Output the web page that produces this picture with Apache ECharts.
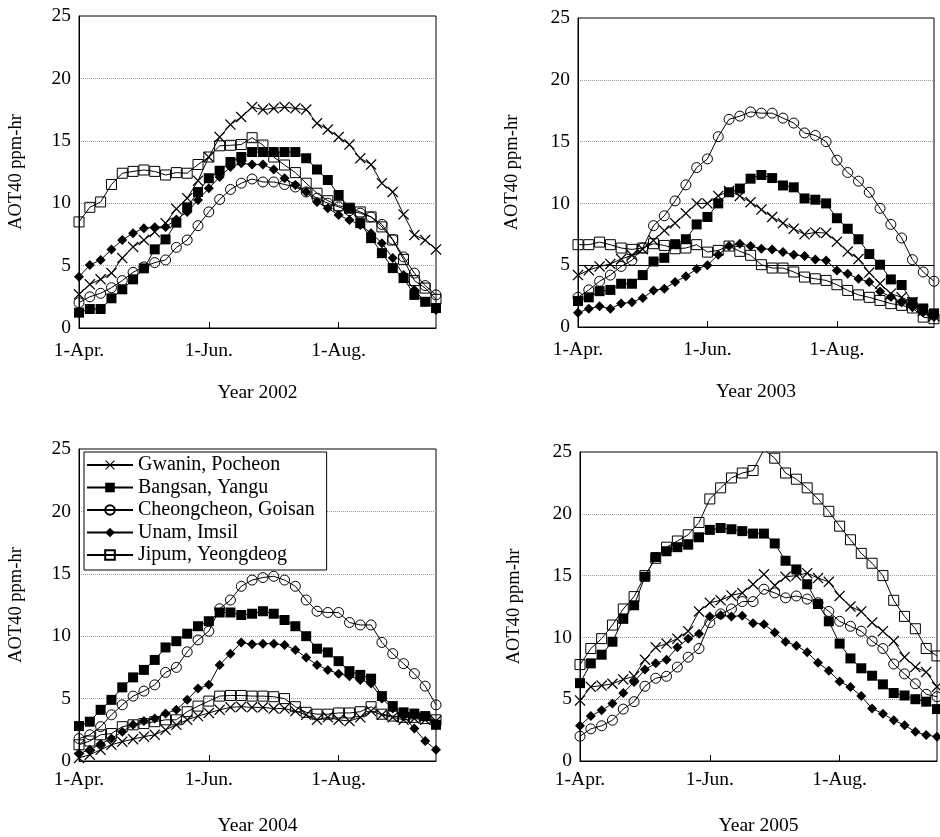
<!DOCTYPE html>
<html>
<head>
<meta charset="utf-8">
<script src="https://cdn.jsdelivr.net/npm/echarts@6/dist/echarts.min.js"></script>
<style>
  html, body { margin: 0; padding: 0; background: #fff; }
  #main { width: 940px; height: 837px; }
</style>
</head>
<body>
<div id="main"></div>
<script>
// 5-day periods from 1 April to mid September
const periods = ['0','1','2','3','4','5','6','7','8','9','10','11','12','13','14','15','16',
  '17','18','19','20','21','22','23','24','25','26','27','28','29','30','31','32','33'];
const tickIndex = [0, 12, 24];
const tickLabels = ['1-Apr.', '1-Jun.', '1-Aug.'];
const years = ['Year 2002', 'Year 2003', 'Year 2004', 'Year 2005'];
const siteNames = ['Gwanin, Pocheon', 'Bangsan, Yangu', 'Cheongcheon, Goisan', 'Unam, Imsil', 'Jipum, Yeongdeog'];

// 2002
const gwanin2002 = [2.7, 3.5, 3.9, 4.4, 5.6, 6.5, 7.05, 7.7, 8.4, 9.55, 10.4, 11.8, 13.7, 15.3, 16.3, 16.9, 17.7,
  17.5, 17.6, 17.7, 17.6, 17.5, 16.4, 15.9, 15.3, 14.7, 13.6, 13.1, 11.6, 10.9, 9.1, 7.45, 7.05, 6.3];
const bangsan2002 = [1.23, 1.52, 1.52, 2.38, 3.1, 3.9, 4.78, 6.3, 7.1, 8.44, 9.67, 10.9, 12.0, 12.6, 13.3, 13.7, 14.1,
  14.1, 14.1, 14.1, 14.1, 13.6, 12.7, 11.86, 10.66, 9.6, 8.4, 7.2, 6.0, 4.8, 4.0, 2.65, 2.1, 1.6];
const cheong2002 = [2.03, 2.5, 2.78, 3.23, 3.8, 4.46, 4.9, 5.24, 5.45, 6.46, 7.05, 8.2, 9.3, 10.3, 11.1, 11.6, 11.94,
  11.7, 11.7, 11.5, 11.3, 10.9, 10.4, 10.0, 9.7, 9.4, 9.2, 8.9, 8.3, 7.1, 5.7, 4.4, 3.4, 2.65];
const unam2002 = [4.1, 5.05, 5.45, 6.3, 7.05, 7.6, 8.0, 8.07, 8.1, 8.7, 9.3, 10.25, 11.2, 12.1, 12.9, 13.2, 13.1,
  13.1, 12.7, 12.0, 11.46, 10.9, 10.1, 9.6, 9.05, 8.65, 8.25, 7.6, 6.8, 5.6, 4.25, 3.05, 2.1, 1.44];
const jipum2002 = [8.5, 9.67, 10.1, 11.5, 12.4, 12.55, 12.66, 12.55, 12.26, 12.45, 12.4, 13.1, 13.7, 14.6, 14.64, 14.7, 15.25,
  14.66, 13.7, 13.06, 12.45, 11.6, 10.8, 10.2, 9.8, 9.6, 9.3, 8.9, 8.1, 7.05, 5.5, 3.8, 3.2, 2.3];

// 2003
const gwanin2003 = [4.2, 4.6, 4.9, 5.1, 5.5, 5.8, 6.3, 7.0, 7.8, 8.4, 9.2, 10.0, 10.0, 10.6, 11.0, 10.6, 10.1,
  9.5, 8.9, 8.4, 7.95, 7.5, 7.65, 7.6, 6.9, 6.1, 5.5, 4.4, 3.5, 2.7, 2.4, 2.0, 1.3, 0.9];
const bangsan2003 = [2.1, 2.4, 2.9, 3.0, 3.5, 3.5, 4.2, 5.3, 5.6, 6.7, 7.1, 8.3, 8.9, 10.0, 10.9, 11.2, 12.0,
  12.3, 12.05, 11.45, 11.3, 10.4, 10.3, 10.0, 8.8, 7.95, 7.1, 5.9, 5.04, 3.85, 3.4, 2.0, 1.5, 1.1];
const cheong2003 = [2.4, 3.0, 3.7, 4.2, 4.9, 5.4, 6.4, 8.2, 9.0, 10.2, 11.5, 12.9, 13.6, 15.4, 16.8, 17.06, 17.4,
  17.3, 17.3, 16.9, 16.5, 15.7, 15.5, 15.0, 13.5, 12.5, 11.8, 10.9, 9.6, 8.3, 7.2, 5.45, 4.45, 3.7];
const unam2003 = [1.16, 1.48, 1.67, 1.48, 1.9, 2.0, 2.35, 2.96, 3.1, 3.64, 4.1, 4.7, 5.0, 5.85, 6.55, 6.74, 6.55,
  6.33, 6.28, 6.06, 5.85, 5.74, 5.47, 5.39, 4.58, 4.3, 3.9, 3.64, 2.88, 2.43, 2.0, 1.6, 1.2, 0.8];
const jipum2003 = [6.66, 6.66, 6.87, 6.66, 6.39, 6.28, 6.39, 6.74, 6.6, 6.33, 6.39, 6.66, 6.06, 6.2, 6.55, 6.12, 5.8,
  5.04, 4.77, 4.77, 4.45, 4.04, 3.9, 3.77, 3.42, 2.96, 2.6, 2.4, 2.15, 1.89, 1.75, 1.54, 0.8, 0.67];

// 2004
const gwanin2004 = [0.25, 0.5, 0.9, 1.3, 1.55, 1.75, 1.95, 2.1, 2.5, 2.9, 3.3, 3.6, 3.85, 4.1, 4.3, 4.35, 4.3,
  4.3, 4.2, 4.2, 4.0, 3.7, 3.3, 3.5, 3.3, 3.2, 3.5, 4.0, 3.7, 3.5, 3.3, 3.4, 3.3, 3.2];
const bangsan2004 = [2.8, 3.15, 4.1, 4.9, 5.9, 6.7, 7.3, 8.1, 9.1, 9.6, 10.2, 10.8, 11.2, 11.9, 11.9, 11.7, 11.8,
  12.0, 11.8, 11.3, 10.8, 10.0, 9.0, 8.7, 8.0, 7.2, 6.9, 6.6, 5.2, 4.4, 3.9, 3.8, 3.6, 2.9];
const cheong2004 = [1.8, 2.1, 2.75, 3.7, 4.5, 5.2, 5.6, 6.1, 7.1, 7.5, 8.75, 9.7, 10.4, 12.2, 12.9, 14.0, 14.5,
  14.7, 14.8, 14.5, 14.0, 12.9, 12.0, 11.9, 11.9, 11.1, 10.9, 10.9, 9.5, 8.6, 7.8, 7.0, 6.0, 4.5];
const unam2004 = [0.6, 0.9, 1.36, 1.8, 2.35, 2.9, 3.2, 3.4, 3.8, 4.1, 4.9, 5.8, 6.1, 7.7, 8.6, 9.5, 9.35,
  9.4, 9.4, 9.3, 8.9, 8.3, 7.7, 7.3, 7.0, 6.8, 6.5, 6.2, 5.0, 4.2, 3.6, 2.6, 1.6, 0.9];
const jipum2004 = [1.3, 1.6, 2.1, 2.2, 2.75, 2.9, 3.0, 3.15, 3.3, 3.3, 3.95, 4.4, 4.8, 5.2, 5.25, 5.25, 5.2,
  5.2, 5.15, 5.0, 4.35, 3.9, 3.75, 3.75, 3.85, 3.85, 3.95, 4.35, 3.75, 3.6, 3.5, 3.5, 3.4, 3.3];

// 2005
const gwanin2005 = [4.9, 6.0, 6.1, 6.25, 6.6, 6.85, 8.2, 9.2, 9.5, 9.9, 10.5, 12.1, 12.8, 13.0, 13.4, 13.6, 14.3,
  15.1, 14.2, 14.9, 15.0, 15.2, 14.8, 14.5, 13.35, 12.5, 12.1, 11.2, 10.5, 9.7, 8.4, 7.6, 7.2, 6.0];
const bangsan2005 = [6.3, 7.9, 8.6, 9.65, 11.5, 12.6, 14.9, 16.5, 16.97, 17.3, 17.5, 18.1, 18.7, 18.85, 18.75, 18.6, 18.4,
  18.4, 17.6, 16.2, 15.5, 14.3, 12.7, 11.3, 9.5, 8.3, 7.5, 6.9, 6.2, 5.5, 5.3, 5.0, 4.8, 4.2];
const cheong2005 = [2.0, 2.6, 2.85, 3.3, 4.2, 4.8, 6.05, 6.7, 6.85, 7.6, 8.4, 9.1, 11.2, 11.9, 12.3, 12.9, 12.9,
  13.9, 13.6, 13.2, 13.35, 13.1, 12.8, 12.1, 11.3, 10.9, 10.5, 9.7, 9.1, 7.85, 7.05, 6.25, 5.4, 5.2];
const unam2005 = [2.85, 3.65, 4.1, 4.65, 5.5, 6.4, 7.4, 7.9, 8.2, 9.2, 9.9, 10.3, 11.7, 11.8, 11.7, 11.75, 11.15,
  11.07, 10.4, 9.65, 9.33, 8.8, 7.94, 7.3, 6.43, 5.98, 5.25, 4.24, 3.83, 3.3, 2.9, 2.36, 2.1, 1.96];
const jipum2005 = [7.8, 9.1, 9.9, 11.0, 12.3, 13.3, 15.0, 16.4, 17.3, 17.8, 18.3, 19.3, 21.2, 22.1, 22.9, 23.3, 23.5,
  25.2, 24.5, 23.3, 22.8, 22.1, 21.2, 20.2, 19.0, 17.9, 16.8, 16.0, 15.0, 13.0, 11.7, 10.7, 9.1, 8.5];

const panelData = [
  [gwanin2002, bangsan2002, cheong2002, unam2002, jipum2002],
  [gwanin2003, bangsan2003, cheong2003, unam2003, jipum2003],
  [gwanin2004, bangsan2004, cheong2004, unam2004, jipum2004],
  [gwanin2005, bangsan2005, cheong2005, unam2005, jipum2005]
];

const font = "'Liberation Serif', 'Times New Roman', serif";
const crossPath = 'path://M0,0.8L0.8,0L5,4.2L9.2,0L10,0.8L5.8,5L10,9.2L9.2,10L5,5.8L0.8,10L0,9.2L4.2,5Z';
const clear = 'rgba(255,255,255,0)';

// marker look of each site: x, filled square, open circle, filled diamond, open square
const markers = [
  { symbol: crossPath, size: 11, fill: '#000', border: 0 },
  { symbol: 'rect', size: 10, fill: '#000', border: 0 },
  { symbol: 'circle', size: 10, fill: clear, border: 1 },
  { symbol: 'diamond', size: 10, fill: '#000', border: 0 },
  { symbol: 'rect', size: 10, fill: clear, border: 1 }
];

const grids = [
  { left: 79, top: 16, width: 357, height: 312 },
  { left: 578, top: 18, width: 356, height: 309 },
  { left: 79, top: 449, width: 357, height: 312 },
  { left: 580, top: 452, width: 357, height: 311 }
];
const labelMargin = [13, 13, 9, 9];
const yNameGap = [53, 56, 53, 56];

const chart = echarts.init(document.getElementById('main'));

const xAxes = [];
const yAxes = [];
const series = [];

grids.forEach(function (g, k) {
  xAxes.push({
    type: 'category',
    gridIndex: k,
    data: periods,
    boundaryGap: false,
    name: years[k],
    nameLocation: 'middle',
    nameGap: 55,
    nameTextStyle: { fontFamily: font, fontSize: 19.5, color: '#000' },
    axisLine: { lineStyle: { color: '#000', width: 1 } },
    axisTick: {
      show: true, inside: true, length: 6,
      lineStyle: { color: '#000' },
      interval: function (i) { return i > 0 && tickIndex.indexOf(i) >= 0; }
    },
    axisLabel: {
      interval: function (i) { return tickIndex.indexOf(i) >= 0; },
      formatter: function (v) { return tickLabels[tickIndex.indexOf(Number(v))] || ''; },
      margin: labelMargin[k],
      fontFamily: font, fontSize: 19.5, color: '#000'
    },
    splitLine: { show: false }
  });
  yAxes.push({
    type: 'value',
    gridIndex: k,
    min: 0, max: 25, interval: 5,
    name: 'AOT40 ppm-hr',
    nameLocation: 'middle',
    nameRotate: 90,
    nameGap: yNameGap[k],
    nameTextStyle: { fontFamily: font, fontSize: 18.5, color: '#000' },
    axisLine: { show: true, lineStyle: { color: '#000', width: 1 } },
    axisTick: { show: false },
    axisLabel: { margin: 8, fontFamily: font, fontSize: 19.5, color: '#000' },
    splitLine: {
      show: true, showMinLine: false, showMaxLine: false,
      lineStyle: { color: '#999', type: 'dotted', width: 1 }
    }
  });
  panelData[k].forEach(function (values, s) {
    const m = markers[s];
    const item = {
      type: 'line',
      name: siteNames[s],
      xAxisIndex: k,
      yAxisIndex: k,
      data: values,
      symbol: m.symbol,
      symbolSize: m.size,
      showAllSymbol: true,
      lineStyle: { color: '#000', width: 1 },
      itemStyle: { color: m.fill, borderColor: '#000', borderWidth: m.border },
      emphasis: { disabled: true }
    };
    // 2003 panel has a solid reference line at 5
    if (k === 1 && s === 4) {
      item.markLine = {
        silent: true, symbol: 'none', label: { show: false },
        lineStyle: { color: '#000', type: 'solid', width: 1 },
        data: [{ yAxis: 5 }]
      };
    }
    series.push(item);
  });
});

chart.setOption({
  animation: false,
  backgroundColor: '#fff',
  grid: grids.map(function (g) {
    return Object.assign({ show: true, borderColor: '#000', borderWidth: 1, backgroundColor: clear }, g);
  }),
  legend: {
    data: siteNames,
    orient: 'vertical',
    left: 84,
    top: 452,
    padding: [3, 12, 5, 2],
    itemWidth: 46,
    itemHeight: 12,
    itemGap: 2.5,
    backgroundColor: '#fff',
    borderColor: '#000',
    borderWidth: 1,
    borderRadius: 0,
    selectedMode: false,
    textStyle: { fontFamily: font, fontSize: 20, lineHeight: 20, color: '#000' }
  },
  xAxis: xAxes,
  yAxis: yAxes,
  series: series
});
</script>
</body>
</html>
